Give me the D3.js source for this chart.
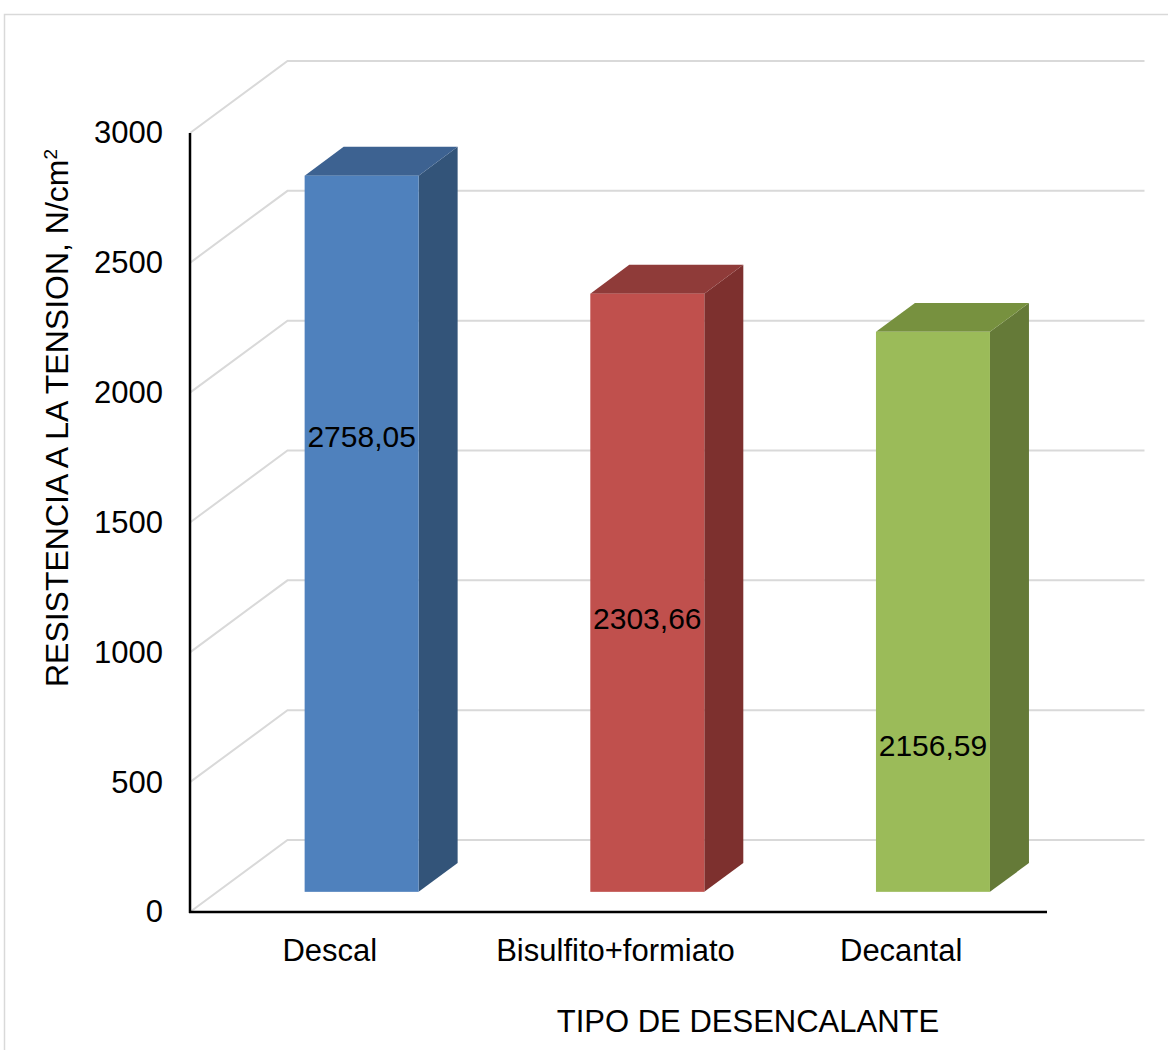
<!DOCTYPE html>
<html>
<head>
<meta charset="utf-8">
<script src="https://cdn.jsdelivr.net/npm/d3@7"></script>
<style>
  html, body { margin: 0; padding: 0; background: #fff; }
  svg { display: block; font-family: Arial, "Liberation Sans", sans-serif; }
</style>
</head>
<body>
<svg id="chart" width="1168" height="1050"></svg>
<script>
// ---- data ----
const categories = ["Descal", "Bisulfito+formiato", "Decantal"];
const values = [2758.05, 2303.66, 2156.59];
const labelAt = [1752, 1050, 560]; // label position, value units
const yTicks = [0, 500, 1000, 1500, 2000, 2500, 3000];
const frontColors = ["#4f81bd", "#c0504d", "#9bbb59"];
const topColors = ["#3d6291", "#8f3b39", "#77913f"];
const sideColors = ["#335479", "#7d302e", "#657a38"];
const yTitle = "RESISTENCIA A LA TENSION, N/cm";
const xTitle = "TIPO DE DESENCALANTE";

// ---- layout ----
const svg = d3.select("#chart");
const fx0 = 190, fx1 = 1047;     // front floor
const depth = { dx: 97.5, dy: -72 }; // back wall offset
const x = d3.scaleBand().domain(categories).range([fx0, fx1]).paddingInner(0).paddingOuter(0);
const y = d3.scaleLinear().domain([0, 3000]).range([912, 133]);
const zFront = 0.28, zBack = 0.68;
const barW = 114;
const fmt = v => d3.format(".2f")(v).replace(".", ",");

// outer border
svg.append("rect").attr("x", 4.5).attr("y", 14.5).attr("width", 1200).attr("height", 1100)
  .attr("fill", "none").attr("stroke", "#d9d9d9").attr("stroke-width", 1.5);

// gridlines: side wall diagonals + back wall horizontals
const grid = svg.append("g").attr("stroke", "#d9d9d9").attr("stroke-width", 2).attr("fill", "none");
yTicks.forEach(t => {
  const yf = y(t);
  grid.append("path").attr("d", `M${fx0},${yf}L${fx0 + depth.dx},${yf + depth.dy}L${fx1 + depth.dx},${yf + depth.dy}`);
});

// bars
const bars = svg.append("g");
categories.forEach((c, i) => {
  const v = values[i];
  const ox = depth.dx * zFront + 1.5, oy = depth.dy * zFront;
  const bx = depth.dx * (zBack - zFront), by = depth.dy * (zBack - zFront);
  const cx = x(c) + x.bandwidth() / 2 + ox;
  const x0 = cx - barW / 2, x1 = cx + barW / 2;
  const yt = y(v) + oy, yb = y(0) + oy;
  // side face
  bars.append("path").attr("fill", sideColors[i])
    .attr("d", `M${x1},${yt}L${x1 + bx},${yt + by}L${x1 + bx},${yb + by}L${x1},${yb}Z`);
  // top face
  bars.append("path").attr("fill", topColors[i])
    .attr("d", `M${x0},${yt}L${x1},${yt}L${x1 + bx},${yt + by}L${x0 + bx},${yt + by}Z`);
  // front face
  bars.append("rect").attr("fill", frontColors[i])
    .attr("x", x0).attr("y", yt).attr("width", barW).attr("height", yb - yt);
  // data label
  bars.append("text").attr("x", cx).attr("y", y(labelAt[i]) + oy + 10)
    .attr("text-anchor", "middle").attr("font-size", 30).attr("fill", "#000")
    .text(fmt(v));
});

// axes lines
svg.append("line").attr("x1", fx0).attr("x2", fx0).attr("y1", y(3000)).attr("y2", y(0) + 1)
  .attr("stroke", "#000").attr("stroke-width", 2.5);
svg.append("line").attr("x1", fx0 - 1).attr("x2", fx1).attr("y1", y(0)).attr("y2", y(0))
  .attr("stroke", "#000").attr("stroke-width", 2.5);

// y tick labels
const yAxis = d3.axisLeft(y).tickValues(yTicks).tickSize(0).tickPadding(27).tickFormat(d3.format("d"));
const ya = svg.append("g").attr("transform", `translate(${fx0},0)`).call(yAxis);
ya.select(".domain").remove();
ya.selectAll("text").attr("font-size", 31).attr("fill", "#000")
  .attr("font-family", "Arial, 'Liberation Sans', sans-serif");

// x category labels
const xAxis = d3.axisBottom(x).tickSize(0).tickPadding(27);
const xa = svg.append("g").attr("transform", `translate(-3,${y(0)})`).call(xAxis);
xa.select(".domain").remove();
xa.selectAll("text").attr("font-size", 31).attr("fill", "#000")
  .attr("font-family", "Arial, 'Liberation Sans', sans-serif");

// axis titles
svg.append("text").attr("x", 748).attr("y", 1032).attr("text-anchor", "middle")
  .attr("font-size", 31).attr("fill", "#000").text(xTitle);
const yt = svg.append("text").attr("transform", "translate(68,418) rotate(-90)")
  .attr("text-anchor", "middle").attr("font-size", 32).attr("fill", "#000");
yt.append("tspan").text(yTitle);
yt.append("tspan").attr("font-size", 19).attr("dy", -11).text("2");
</script>
</body>
</html>
